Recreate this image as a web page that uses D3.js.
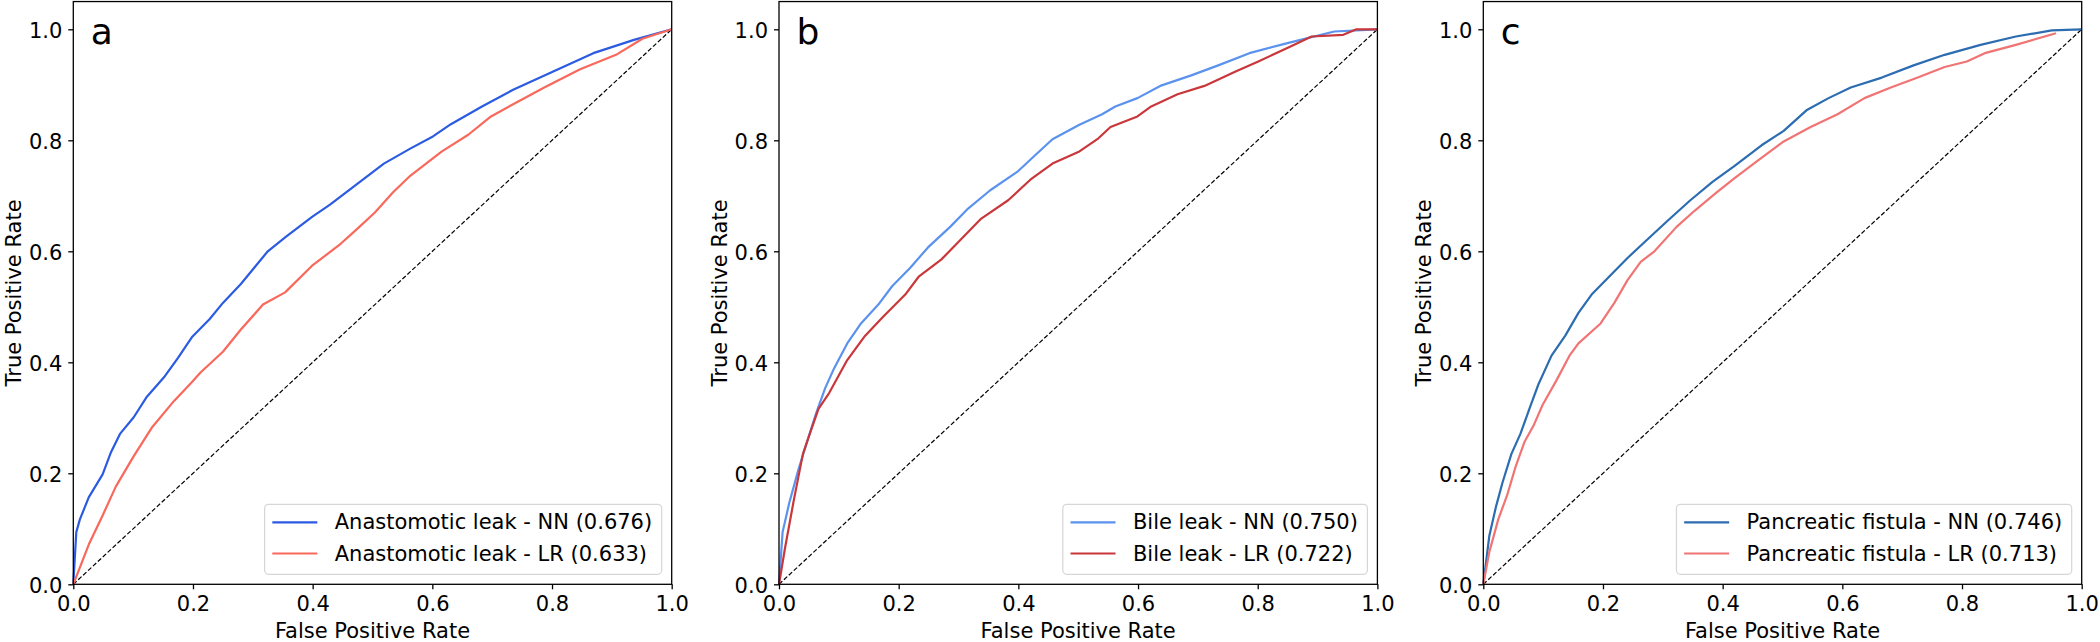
<!DOCTYPE html>
<html>
<head>
<meta charset="utf-8">
<script src="https://cdn.jsdelivr.net/npm/d3@7"></script>
<style>
  html, body { margin: 0; padding: 0; background: #ffffff; }
  svg { display: block; font-family: "DejaVu Sans", sans-serif; }
</style>
</head>
<body>
<svg id="chart" width="2100" height="642"></svg>
<script>
// ---------- data ----------
const panelLetters = ["a", "b", "c"];
const xTicks = [0.0, 0.2, 0.4, 0.6, 0.8, 1.0];
const yTicks = [0.0, 0.2, 0.4, 0.6, 0.8, 1.0];
const xLabel = "False Positive Rate";
const yLabel = "True Positive Rate";

// Panel a — Anastomotic leak
const aNN_label = "Anastomotic leak - NN (0.676)";
const aNN_fpr = [0, 0.005, 0.011, 0.026, 0.049, 0.063, 0.078, 0.101, 0.123, 0.153, 0.175, 0.198, 0.228, 0.250, 0.280, 0.302, 0.325, 0.354, 0.399, 0.429, 0.474, 0.519, 0.563, 0.601, 0.631, 0.683, 0.735, 0.802, 0.869, 0.937, 1.0];
const aNN_tpr = [0, 0.094, 0.117, 0.157, 0.198, 0.238, 0.271, 0.301, 0.338, 0.375, 0.408, 0.445, 0.478, 0.507, 0.541, 0.570, 0.600, 0.625, 0.662, 0.684, 0.721, 0.758, 0.785, 0.807, 0.829, 0.861, 0.891, 0.924, 0.957, 0.981, 1.0];
const aLR_label = "Anastomotic leak - LR (0.633)";
const aLR_fpr = [0, 0.026, 0.049, 0.071, 0.101, 0.131, 0.168, 0.198, 0.213, 0.250, 0.280, 0.317, 0.354, 0.399, 0.444, 0.474, 0.504, 0.534, 0.563, 0.616, 0.660, 0.698, 0.735, 0.787, 0.847, 0.907, 0.951, 1.0];
const aLR_tpr = [0, 0.072, 0.124, 0.176, 0.231, 0.282, 0.330, 0.364, 0.382, 0.419, 0.459, 0.504, 0.526, 0.574, 0.611, 0.640, 0.670, 0.706, 0.736, 0.780, 0.810, 0.843, 0.865, 0.895, 0.928, 0.954, 0.983, 1.0];

// Panel b — Bile leak
const bNN_label = "Bile leak - NN (0.750)";
const bNN_fpr = [0, 0.006, 0.017, 0.032, 0.047, 0.062, 0.077, 0.092, 0.114, 0.137, 0.166, 0.189, 0.219, 0.249, 0.286, 0.316, 0.353, 0.398, 0.428, 0.457, 0.502, 0.540, 0.562, 0.599, 0.637, 0.689, 0.734, 0.786, 0.853, 0.928, 1.0];
const bNN_tpr = [0, 0.094, 0.146, 0.205, 0.257, 0.308, 0.353, 0.389, 0.434, 0.470, 0.504, 0.537, 0.570, 0.607, 0.644, 0.677, 0.710, 0.743, 0.773, 0.802, 0.828, 0.847, 0.861, 0.876, 0.898, 0.917, 0.935, 0.957, 0.976, 0.996, 1.0];
const bLR_label = "Bile leak - LR (0.722)";
const bLR_fpr = [0, 0.010, 0.025, 0.040, 0.054, 0.066, 0.084, 0.114, 0.144, 0.174, 0.211, 0.234, 0.271, 0.301, 0.338, 0.383, 0.420, 0.457, 0.502, 0.532, 0.554, 0.599, 0.622, 0.666, 0.711, 0.763, 0.801, 0.853, 0.890, 0.943, 0.965, 1.0];
const bLR_tpr = [0, 0.065, 0.153, 0.235, 0.279, 0.316, 0.345, 0.404, 0.448, 0.482, 0.522, 0.555, 0.585, 0.618, 0.659, 0.692, 0.729, 0.758, 0.780, 0.802, 0.824, 0.843, 0.861, 0.883, 0.898, 0.924, 0.942, 0.968, 0.987, 0.990, 1.0, 1.0];

// Panel c — Pancreatic fistula
const cNN_label = "Pancreatic fistula - NN (0.746)";
const cNN_fpr = [0, 0.010, 0.021, 0.032, 0.047, 0.062, 0.077, 0.092, 0.114, 0.137, 0.159, 0.181, 0.211, 0.241, 0.271, 0.308, 0.346, 0.383, 0.420, 0.465, 0.502, 0.540, 0.577, 0.614, 0.666, 0.719, 0.771, 0.831, 0.890, 0.950, 1.0];
const cNN_tpr = [0, 0.087, 0.139, 0.183, 0.235, 0.271, 0.316, 0.360, 0.412, 0.448, 0.489, 0.522, 0.555, 0.588, 0.618, 0.655, 0.692, 0.725, 0.754, 0.791, 0.817, 0.854, 0.876, 0.895, 0.913, 0.935, 0.954, 0.972, 0.987, 0.998, 1.0];
const cLR_label = "Pancreatic fistula - LR (0.713)";
const cLR_fpr = [0, 0.010, 0.025, 0.040, 0.054, 0.069, 0.084, 0.099, 0.122, 0.144, 0.159, 0.196, 0.219, 0.241, 0.263, 0.286, 0.323, 0.353, 0.390, 0.420, 0.457, 0.502, 0.547, 0.592, 0.637, 0.681, 0.726, 0.771, 0.808, 0.838, 0.890, 0.957];
const cLR_tpr = [0, 0.058, 0.117, 0.161, 0.212, 0.257, 0.286, 0.323, 0.367, 0.412, 0.434, 0.470, 0.507, 0.548, 0.581, 0.600, 0.644, 0.673, 0.706, 0.732, 0.762, 0.798, 0.824, 0.847, 0.876, 0.895, 0.913, 0.932, 0.942, 0.957, 0.972, 0.993];

// ---------- panel definitions built from the arrays ----------
const panels = [
  { letter: panelLetters[0], series: [
      { label: aNN_label, fpr: aNN_fpr, tpr: aNN_tpr, color: "#2b5be0" },
      { label: aLR_label, fpr: aLR_fpr, tpr: aLR_tpr, color: "#f8685b" } ] },
  { letter: panelLetters[1], series: [
      { label: bNN_label, fpr: bNN_fpr, tpr: bNN_tpr, color: "#5b92ee" },
      { label: bLR_label, fpr: bLR_fpr, tpr: bLR_tpr, color: "#c9373a" } ] },
  { letter: panelLetters[2], series: [
      { label: cNN_label, fpr: cNN_fpr, tpr: cNN_tpr, color: "#2c6cb1" },
      { label: cLR_label, fpr: cLR_fpr, tpr: cLR_tpr, color: "#f07474" } ] }
];

// ---------- layout ----------
const FS = 21;
const panelLeft = [73.3, 779, 1483.3];
const panelW = 598.4;
const yBottom = 584.3, yTop = 1.55;

const svg = d3.select("#chart");

panels.forEach((p, i) => {
  const x0 = panelLeft[i];
  const x = d3.scaleLinear().domain([0, 1]).range([x0, x0 + panelW]);
  const y = d3.scaleLinear().domain([0, 1.05]).range([yBottom, yTop]);
  const g = svg.append("g");

  // diagonal reference
  g.append("line")
    .attr("x1", x(0)).attr("y1", y(0)).attr("x2", x(1)).attr("y2", y(1))
    .attr("stroke", "#000").attr("stroke-width", 1.2)
    .attr("stroke-dasharray", "4.5,2.2");

  // curves
  const line = d3.line().x(d => x(d[0])).y(d => y(d[1]));
  p.series.forEach(s => {
    const pts = s.fpr.map((f, k) => [f, s.tpr[k]]);
    g.append("path").datum(pts)
      .attr("d", line)
      .attr("fill", "none")
      .attr("stroke", s.color)
      .attr("stroke-width", 2.2)
      .attr("stroke-linejoin", "round");
  });

  // axes
  const xAxis = d3.axisBottom(x).tickValues(xTicks).tickFormat(d3.format(".1f"))
    .tickSize(5).tickPadding(4);
  const yAxis = d3.axisLeft(y).tickValues(yTicks).tickFormat(d3.format(".1f"))
    .tickSize(5).tickPadding(6);

  const gx = g.append("g").attr("transform", `translate(0,${yBottom})`).call(xAxis);
  const gy = g.append("g").attr("transform", `translate(${x0},0)`).call(yAxis);
  [gx, gy].forEach(ax => {
    ax.select(".domain").remove();
    ax.selectAll(".tick line").attr("stroke", "#000").attr("stroke-width", 1.3);
    ax.selectAll(".tick text").attr("fill", "#000")
      .style("font-family", "DejaVu Sans").style("font-size", FS + "px");
  });
  gx.selectAll(".tick text").attr("dy", null).attr("y", 26.7);
  gy.selectAll(".tick text").attr("dy", null).attr("y", 8.6);

  // frame (spines)
  g.append("rect")
    .attr("x", x(0)).attr("y", y(1.05))
    .attr("width", x(1) - x(0)).attr("height", y(0) - y(1.05))
    .attr("fill", "none").attr("stroke", "#000").attr("stroke-width", 1.3);

  // axis labels
  g.append("text").attr("x", (x(0) + x(1)) / 2).attr("y", 638.3)
    .attr("text-anchor", "middle").style("font-size", FS + "px").text(xLabel);
  g.append("text")
    .attr("transform", `translate(${x0 - 52.3},${(y(0) + y(1.05)) / 2}) rotate(-90)`)
    .attr("text-anchor", "middle").style("font-size", FS + "px").text(yLabel);

  // panel letter
  g.append("text").attr("x", x0 + 17.5).attr("y", 44)
    .style("font-size", "36px").text(p.letter);

  // legend (lower right)
  const lg = g.append("g");
  const texts = p.series.map((s, k) =>
    lg.append("text").attr("y", 529.3 + k * 31.2).style("font-size", FS + "px").text(s.label));
  const tw = d3.max(texts, t => t.node().getComputedTextLength());
  const boxRight = x(1) - 10;
  const boxW = 7.7 + 45 + 17.4 + tw + 9.5;
  const boxLeft = boxRight - boxW;
  lg.insert("rect", ":first-child")
    .attr("x", boxLeft).attr("y", 504.3).attr("width", boxW).attr("height", 70)
    .attr("rx", 4).attr("ry", 4)
    .attr("fill", "#ffffff").attr("fill-opacity", 0.8)
    .attr("stroke", "#d6d6d6").attr("stroke-width", 1.2);
  p.series.forEach((s, k) => {
    const ly = 522.3 + k * 31.2;
    lg.append("line").attr("x1", boxLeft + 7.7).attr("x2", boxLeft + 52.7)
      .attr("y1", ly).attr("y2", ly)
      .attr("stroke", s.color).attr("stroke-width", 2.2);
  });
  texts.forEach(t => t.attr("x", boxLeft + 7.7 + 45 + 17.4));
});
</script>
</body>
</html>
